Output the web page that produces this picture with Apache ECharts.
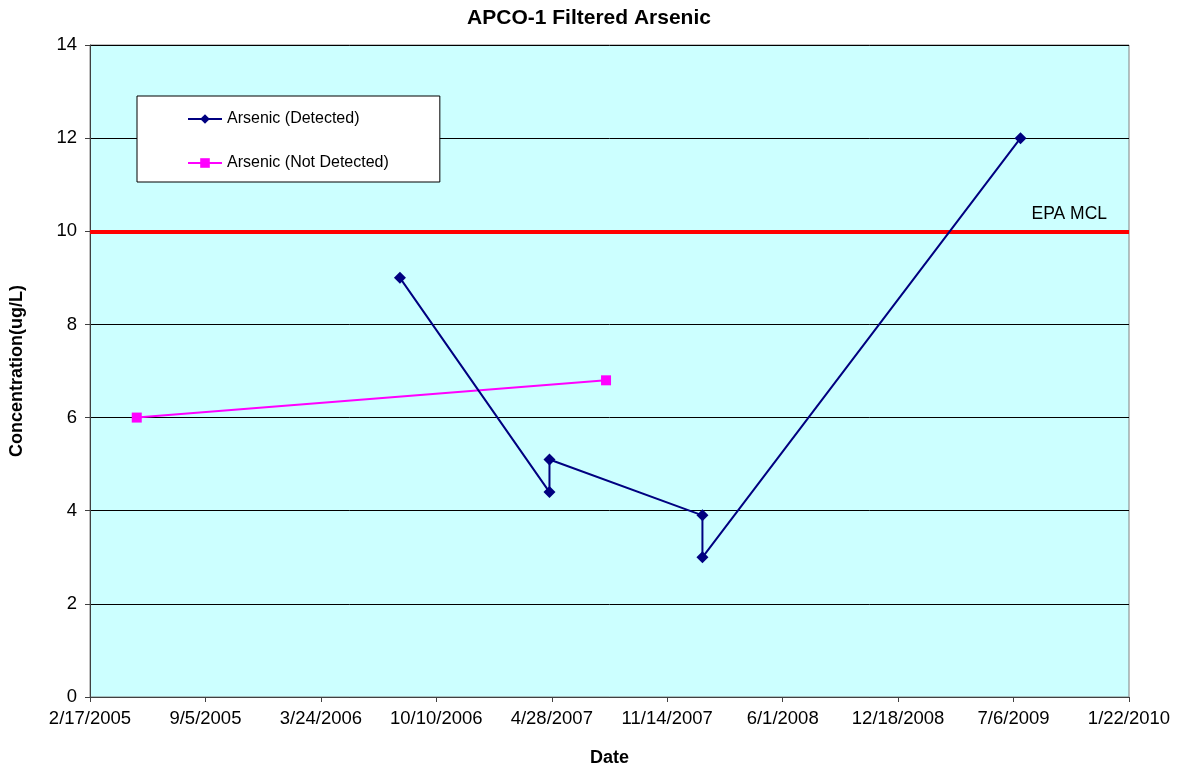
<!DOCTYPE html>
<html>
<head>
<meta charset="utf-8">
<script src="https://cdn.jsdelivr.net/npm/echarts@6/dist/echarts.min.js"></script>
<style>html,body{margin:0;padding:0;background:#fff}#c{width:1178px;height:767px}</style>
</head>
<body>
<div id="c"></div>
<script>
// ---- data ----
const chartTitle = 'APCO-1 Filtered Arsenic';
const detectedDates = ['2006-08-08', '2007-04-24', '2007-04-24', '2008-01-14', '2008-01-14', '2009-07-18'];
const detectedValues = [9, 4.4, 5.1, 3.9, 3.0, 12];
const notDetectedDates = ['2005-05-09', '2007-07-31'];
const notDetectedValues = [6, 6.8];
const mclValue = 10;
const xStart = '2005-02-17';
const xTickDays = 200;
const xTickCount = 9;
const yMin = 0, yMax = 14, yStep = 2;

const DAY = 86400000;
function toUTC(s) { const p = s.split('-').map(Number); return Date.UTC(p[0], p[1] - 1, p[2]); }
const xMin = toUTC(xStart);
const xMax = xMin + xTickDays * xTickCount * DAY;
function fmt(v) { const d = new Date(v); return (d.getUTCMonth() + 1) + '/' + d.getUTCDate() + '/' + d.getUTCFullYear(); }

const detected = detectedDates.map((d, i) => [toUTC(d), detectedValues[i]]);
const notDetected = notDetectedDates.map((d, i) => [toUTC(d), notDetectedValues[i]]);

const FF = '"Liberation Sans", Arial, sans-serif';
const chart = echarts.init(document.getElementById('c'));
chart.setOption({
  animation: false,
  backgroundColor: '#ffffff',
  textStyle: { fontFamily: FF },
  title: {
    text: chartTitle, left: 'center', top: 8, padding: 0,
    textStyle: { fontSize: 21, fontWeight: 'bold', color: '#000', fontFamily: FF }
  },
  grid: {
    left: 90, right: 49, top: 45, bottom: 70,
    containLabel: false, outerBoundsMode: 'none',
    show: true, backgroundColor: '#CCFFFF', borderColor: '#808080', borderWidth: 1
  },
  legend: {
    orient: 'vertical', left: 137, top: 96,
    backgroundColor: '#ffffff', borderColor: '#000', borderWidth: 1,
    padding: [15, 51, 11, 50], itemGap: 28, itemWidth: 34, itemHeight: 12,
    textStyle: { fontSize: 16, color: '#000', fontFamily: FF },
    data: ['Arsenic (Detected)', 'Arsenic (Not Detected)']
  },
  xAxis: {
    type: 'value', min: xMin, max: xMax, interval: xTickDays * DAY,
    name: 'Date', nameLocation: 'middle', nameGap: 52,
    nameTextStyle: { fontSize: 18, fontWeight: 'bold', color: '#000', fontFamily: FF },
    axisLine: { show: true, lineStyle: { color: '#404040', width: 1 } },
    axisTick: { show: true, length: 5, lineStyle: { color: '#404040' } },
    axisLabel: { formatter: fmt, fontSize: 18.5, color: '#000', margin: 12, fontFamily: FF },
    splitLine: { show: false }
  },
  yAxis: {
    type: 'value', min: yMin, max: yMax, interval: yStep,
    name: 'Concentration(ug/L)', nameLocation: 'middle', nameGap: 64,
    nameTextStyle: { fontSize: 18, fontWeight: 'bold', color: '#000', fontFamily: FF },
    axisLine: { show: true, lineStyle: { color: '#404040', width: 1 } },
    axisTick: { show: true, length: 5, lineStyle: { color: '#404040' } },
    axisLabel: { fontSize: 18.5, color: '#000', margin: 13, fontFamily: FF },
    splitLine: { show: true, lineStyle: { color: '#000', width: 1 } }
  },
  series: [
    {
      name: 'Arsenic (Detected)', type: 'line', data: detected,
      symbol: 'diamond', symbolSize: 12,
      itemStyle: { color: '#000080' },
      lineStyle: { color: '#000080', width: 2 },
      z: 5,
      markLine: {
        silent: true, symbol: 'none', animation: false,
        lineStyle: { color: '#FF0000', width: 4, type: 'solid' },
        label: {
          show: true, formatter: 'EPA MCL', position: 'insideEndTop',
          color: '#000', fontSize: 17.5, fontFamily: FF, padding: [0, 17, 3, 0]
        },
        data: [{ yAxis: mclValue }]
      }
    },
    {
      name: 'Arsenic (Not Detected)', type: 'line', data: notDetected,
      symbol: 'rect', symbolSize: 10,
      itemStyle: { color: '#FF00FF' },
      lineStyle: { color: '#FF00FF', width: 2 },
      z: 4
    }
  ]
});
</script>
</body>
</html>
